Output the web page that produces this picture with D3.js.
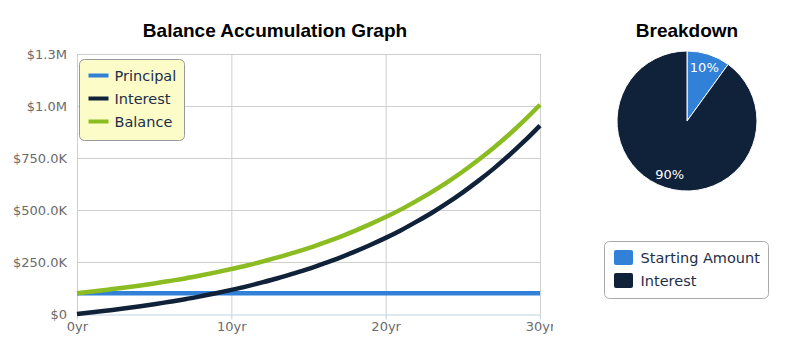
<!DOCTYPE html>
<html>
<head>
<meta charset="utf-8">
<script src="https://cdn.jsdelivr.net/npm/d3@7"></script>
<style>
  body { margin: 0; background: #fff; }
  svg { display: block; }
</style>
</head>
<body>
<svg id="chart" width="787" height="351"></svg>
<script>
// years on the x axis
const years = d3.range(0, 31);
// values (dollars)
const principal = [100000,100000,100000,100000,100000,100000,100000,100000,100000,100000,
  100000,100000,100000,100000,100000,100000,100000,100000,100000,100000,
  100000,100000,100000,100000,100000,100000,100000,100000,100000,100000,100000];
const interest = [0,8000,17000,26000,36000,47000,59000,71000,85000,100000,
  116000,133000,152000,172000,194000,217000,243000,270000,300000,332000,
  366000,403000,444000,487000,534000,585000,640000,699000,763000,832000,906000];
const balance = [100000,108000,117000,126000,136000,147000,159000,171000,185000,200000,
  216000,233000,252000,272000,294000,317000,343000,370000,400000,432000,
  466000,503000,544000,587000,634000,685000,740000,799000,863000,932000,1006000];

const seriesNames = ["Principal", "Interest", "Balance"];
const seriesColors = ["#3181d8", "#0f2239", "#8bbd22"];

const yTicks = [0, 250000, 500000, 750000, 1000000, 1250000];
const xTicks = [0, 10, 20, 30];

const pieLabels = ["Starting Amount", "Interest"];
const pieValues = [10, 90];

const svg = d3.select("#chart");

// clip so the last x label gets cut like the original
svg.append("defs").append("clipPath").attr("id", "leftclip")
  .append("rect").attr("x", 0).attr("y", 0).attr("width", 553).attr("height", 351);

const g = svg.append("g").attr("clip-path", "url(#leftclip)");

const x = d3.scaleLinear().domain([0, 30]).range([77, 540]);
const y = d3.scaleLinear().domain([0, 1250000]).range([314, 54]);

// title
svg.append("text")
  .attr("x", 275).attr("y", 37)
  .attr("text-anchor", "middle")
  .style("font", "bold 19px 'Liberation Sans', Arial, sans-serif")
  .attr("fill", "#000")
  .text("Balance Accumulation Graph");

// horizontal grid
g.append("g").selectAll("line")
  .data(yTicks.slice(1))
  .join("line")
  .attr("x1", x(0)).attr("x2", x(30))
  .attr("y1", d => y(d) + 0.5).attr("y2", d => y(d) + 0.5)
  .attr("stroke", "#cfcfcf");

// vertical grid
g.append("g").selectAll("line")
  .data(xTicks)
  .join("line")
  .attr("x1", d => x(d) + 0.5).attr("x2", d => x(d) + 0.5)
  .attr("y1", y(1250000)).attr("y2", y(0))
  .attr("stroke", "#cfcfcf");

// y labels
const fmt = v => v === 0 ? "$0" : v >= 1e6 ? "$" + (v / 1e6).toFixed(1) + "M" : "$" + (v / 1e3).toFixed(1) + "K";
const yAxis = g.append("g")
  .attr("transform", "translate(" + x(0) + ",0)")
  .call(d3.axisLeft(y).tickValues(yTicks).tickFormat(fmt).tickSize(0).tickPadding(10));
yAxis.select(".domain").remove();
yAxis.selectAll("text")
  .attr("fill", "#6b6b6b")
  .style("font", "13px 'DejaVu Sans', sans-serif");

// x axis
const xAxis = g.append("g")
  .attr("transform", "translate(0," + (y(0) + 0.5) + ")")
  .call(d3.axisBottom(x).tickValues(xTicks).tickFormat(d => d + "yr").tickSize(5).tickSizeOuter(0).tickPadding(2));
xAxis.select(".domain").attr("stroke", "#c0d0e0");
xAxis.selectAll(".tick line").attr("stroke", "#c0d0e0");
xAxis.selectAll("text")
  .attr("fill", "#6b6b6b")
  .style("font", "13px 'DejaVu Sans', sans-serif");

// lines
const allSeries = [principal, interest, balance];
const line = d3.line()
  .x((d, i) => x(years[i]))
  .y(d => y(d))
  .curve(d3.curveMonotoneX);

g.append("g").selectAll("path")
  .data(allSeries)
  .join("path")
  .attr("d", line)
  .attr("fill", "none")
  .attr("stroke", (d, i) => seriesColors[i])
  .attr("stroke-width", 4.5);

// legend
const leg = g.append("g").attr("transform", "translate(79.5,59.5)");
leg.append("rect")
  .attr("width", 105).attr("height", 81).attr("rx", 5)
  .attr("fill", "#fbfcc8").attr("stroke", "#999");
seriesNames.forEach((name, i) => {
  leg.append("line")
    .attr("x1", 9).attr("x2", 29)
    .attr("y1", 16 + i * 23).attr("y2", 16 + i * 23)
    .attr("stroke", seriesColors[i]).attr("stroke-width", 4);
  leg.append("text")
    .attr("x", 35).attr("y", 21 + i * 23)
    .attr("fill", "#1e2e4a")
    .style("font", "14.5px 'DejaVu Sans', sans-serif")
    .text(name);
});

// pie
svg.append("text")
  .attr("x", 687).attr("y", 37)
  .attr("text-anchor", "middle")
  .style("font", "bold 19px 'Liberation Sans', Arial, sans-serif")
  .text("Breakdown");

const pieColors = ["#3181d8", "#0f2239"];
const pie = d3.pie().sort(null).value(d => d);
const arcs = pie(pieValues);
const arc = d3.arc().innerRadius(0).outerRadius(70);
const labelArc = d3.arc().innerRadius(56).outerRadius(56);

const pg = svg.append("g").attr("transform", "translate(687,121)");
pg.selectAll("path")
  .data(arcs)
  .join("path")
  .attr("d", arc)
  .attr("fill", (d, i) => pieColors[i])
  .attr("stroke", "#fff").attr("stroke-width", 1);
pg.selectAll("text")
  .data(arcs)
  .join("text")
  .attr("transform", d => "translate(" + labelArc.centroid(d) + ")")
  .attr("text-anchor", "middle")
  .attr("dy", "0.35em")
  .attr("fill", "#fff")
  .style("font", "13px 'DejaVu Sans', sans-serif")
  .text(d => d.data + "%");

// pie legend
const pl = svg.append("g").attr("transform", "translate(604.5,241.5)");
pl.append("rect")
  .attr("width", 164).attr("height", 57).attr("rx", 5)
  .attr("fill", "#fff").attr("stroke", "#aaa");
pieLabels.forEach((name, i) => {
  pl.append("rect")
    .attr("x", 9.5).attr("y", 8.5 + i * 23)
    .attr("width", 19).attr("height", 15).attr("rx", 2)
    .attr("fill", pieColors[i]);
  pl.append("text")
    .attr("x", 36).attr("y", 21 + i * 23)
    .attr("fill", "#1e2e4a")
    .style("font", "14.5px 'DejaVu Sans', sans-serif")
    .text(name);
});
</script>
</body>
</html>
